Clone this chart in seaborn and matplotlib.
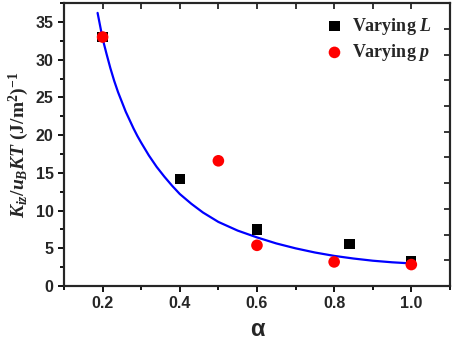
import numpy as np
import pandas as pd
import seaborn as sns
import matplotlib.pyplot as plt
from matplotlib.ticker import MultipleLocator

# data
alpha_L = [0.2, 0.4, 0.6, 0.84, 1.0]
k_L = [33.0, 14.2, 7.5, 5.6, 3.3]
alpha_p = [0.2, 0.5, 0.6, 0.8, 1.0]
k_p = [33.0, 16.6, 5.4, 3.2, 2.85]
# fitted curve
fit_alpha = [0.187, 0.20, 0.21, 0.22, 0.23, 0.24, 0.25, 0.26, 0.27, 0.28, 0.29,
             0.30, 0.32, 0.34, 0.36, 0.38, 0.40, 0.43, 0.46, 0.50, 0.55, 0.60,
             0.65, 0.70, 0.75, 0.80, 0.85, 0.90, 0.95, 1.00]
fit_k = [36.2, 32.8, 30.8, 28.9, 27.2, 25.7, 24.4, 23.1, 22.0, 20.9, 19.9,
         19.0, 17.3, 15.8, 14.5, 13.3, 12.2, 10.9, 9.75, 8.5, 7.35, 6.45,
         5.65, 5.0, 4.45, 4.0, 3.65, 3.36, 3.15, 3.0]

df_L = pd.DataFrame({"alpha": alpha_L, "k": k_L})
df_p = pd.DataFrame({"alpha": alpha_p, "k": k_p})
df_fit = pd.DataFrame({"alpha": fit_alpha, "k": fit_k})

sns.set_theme(style="ticks")
plt.rcParams['font.family'] = ['Liberation Sans', 'DejaVu Sans']
plt.rcParams['font.weight'] = 'bold'
plt.rcParams['mathtext.fontset'] = 'custom'
plt.rcParams['mathtext.rm'] = 'Liberation Serif:bold'
plt.rcParams['mathtext.it'] = 'Liberation Serif:bold:italic'
plt.rcParams['mathtext.bf'] = 'Liberation Serif:bold'

fig = plt.figure(figsize=(4.54, 3.43), dpi=100)
ax = fig.add_axes([0.141, 0.166, 0.85, 0.825])

sns.lineplot(data=df_fit, x="alpha", y="k", color="#0000ff", lw=1.6, ax=ax,
             sort=False, zorder=2)
sns.scatterplot(data=df_L, x="alpha", y="k", marker="s", color="black", s=55,
                edgecolor="none", ax=ax, label=r"$\mathrm{Varying}\ L$", zorder=3)
sns.scatterplot(data=df_p, x="alpha", y="k", marker="o", color="#ff0000", s=70,
                edgecolor="none", ax=ax, label=r"$\mathrm{Varying}\ p$", zorder=4)

ax.set_xlim(0.1, 1.1)
ax.set_ylim(0, 37.5)
ax.xaxis.set_major_locator(MultipleLocator(0.2))
ax.xaxis.set_minor_locator(MultipleLocator(0.1))
ax.yaxis.set_major_locator(MultipleLocator(5))
ax.yaxis.set_minor_locator(MultipleLocator(2.5))
ax.xaxis.set_major_formatter(plt.FuncFormatter(lambda v, p: f"{v:.1f}"))
ax.tick_params(which="both", direction="out", width=1.3, length=4.5,
               labelsize=11.5, color="black", pad=3)
ax.tick_params(which="minor", length=3)
for lab in ax.get_xticklabels() + ax.get_yticklabels():
    lab.set_fontweight("bold")
for s in ax.spines.values():
    s.set_linewidth(1.5)
    s.set_color("black")

# mirrored ticks on top and right
top = ax.secondary_xaxis("top")
top.xaxis.set_major_locator(MultipleLocator(0.1))
top.tick_params(direction="in", length=4, width=1.3, labeltop=False)
right = ax.twinx()
right.set_ylim(0, 11)
right.yaxis.set_major_locator(MultipleLocator(1))
right.tick_params(direction="in", length=4, width=1.3, labelright=False)
right.set_ylabel("")
for s in right.spines.values():
    s.set_linewidth(1.5)

ax.set_xlabel("α", fontsize=17, fontweight="bold", labelpad=5)
ax.set_ylabel(r"$K_{iz}/u_BKT\ \mathrm{(J/m^2)^{-1}}$", fontsize=14, labelpad=3)

leg = ax.legend(loc="upper right", frameon=False, fontsize=13, handletextpad=0.35,
                borderaxespad=0.3, labelspacing=0.3, handlelength=1.2,
                bbox_to_anchor=(0.985, 1.0))

fig.savefig("out.png", dpi=100)
